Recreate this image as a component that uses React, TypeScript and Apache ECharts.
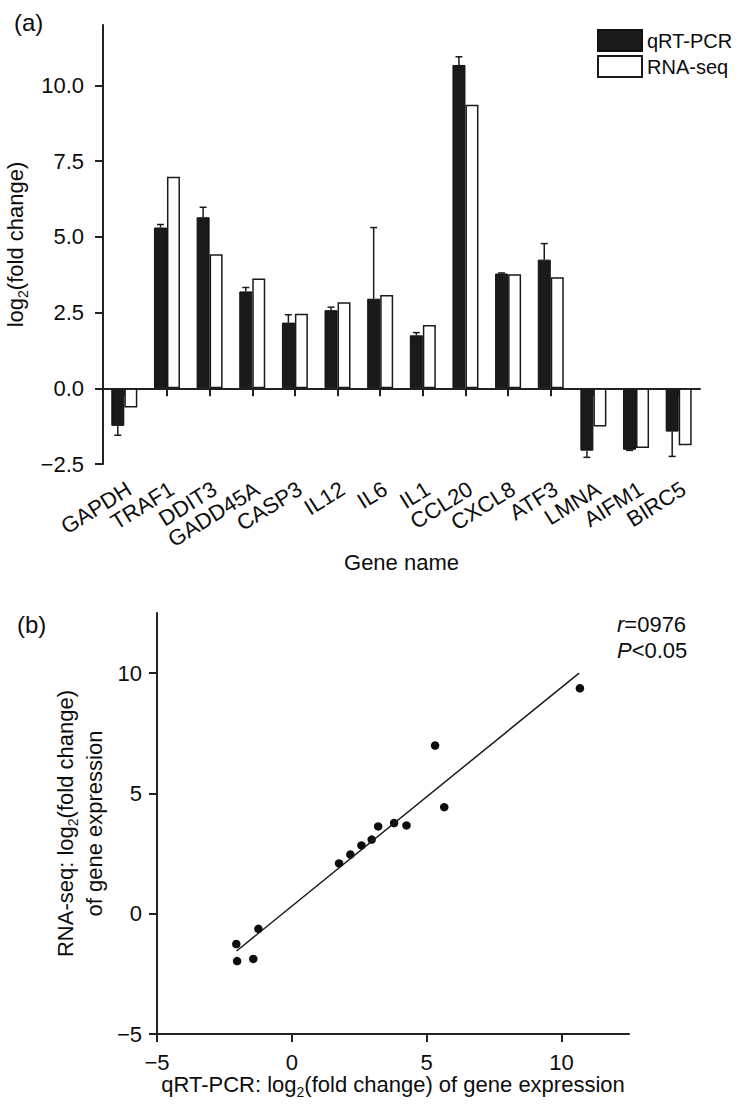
import React, { useEffect, useRef } from 'react';
import * as echarts from 'echarts';

const genes = ['GAPDH', 'TRAF1', 'DDIT3', 'GADD45A', 'CASP3', 'IL12', 'IL6', 'IL1', 'CCL20', 'CXCL8', 'ATF3', 'LMNA', 'AIFM1', 'BIRC5'];
const qpcr = [-1.24, 5.31, 5.65, 3.2, 2.17, 2.58, 2.96, 1.75, 10.68, 3.79, 4.25, -2.06, -2.03, -1.43];
const qpcrErr = [0.31, 0.1, 0.33, 0.13, 0.26, 0.1, 2.35, 0.09, 0.27, 0.02, 0.53, 0.22, 0.02, 0.82];
const rnaseq = [-0.63, 6.99, 4.43, 3.63, 2.46, 2.84, 3.08, 2.09, 9.37, 3.77, 3.67, -1.26, -1.97, -1.88];
const barTicks = [-2.5, 0, 2.5, 5, 7.5, 10];
const scatterTicks = [-5, 0, 5, 10];
const fitX = [-2.05, 10.65];
const fitY = [-1.55, 10.0];

const FONT = 'Liberation Sans, Arial, Helvetica, sans-serif';
const INK = '#0d0d0d';
const BAR_W = 13;
const BAR_MIN = -2.5;
const LABEL_DX = 5;
const LABEL_DY = 23;
const LABEL_ROT = (32 * Math.PI) / 180;

const fmt = (v: number, digits: number) => v.toFixed(digits).replace('-', '\u2212');

const axisLineStyle = { show: true, lineStyle: { color: '#222', width: 2 } };
const axisTickStyle = (customValues?: number[]) => ({
  show: true,
  length: 8,
  inside: false,
  lineStyle: { color: '#222', width: 2 },
  ...(customValues ? { customValues } : {}),
});

export default function App() {
  const ref = useRef<HTMLDivElement>(null);

  useEffect(() => {
    document.body.style.margin = '0';
    if (!ref.current) return;
    const chart = echarts.init(ref.current, undefined, { renderer: 'svg' });

    const subRich = {
      a: { fontSize: 22, lineHeight: 29, fontFamily: FONT, color: INK },
      s: { fontSize: 14, lineHeight: 14, verticalAlign: 'bottom', fontFamily: FONT, color: INK },
    };

    const option: any = {
      animation: false,
      backgroundColor: '#ffffff',
      textStyle: { fontFamily: FONT, color: INK },
      legend: {
        orient: 'vertical',
        left: 597,
        top: 29,
        padding: 0,
        itemWidth: 44,
        itemHeight: 21,
        itemGap: 3,
        icon: 'rect',
        selectedMode: false,
        textStyle: { fontSize: 20, fontFamily: FONT, color: INK },
        data: ['qRT-PCR', 'RNA-seq'],
      },
      grid: [
        { left: 103, top: 25, width: 597, height: 439, outerBoundsMode: 'none' },
        { left: 157, top: 613, width: 472, height: 421, outerBoundsMode: 'none' },
      ],
      xAxis: [
        {
          type: 'category',
          gridIndex: 0,
          data: genes,
          boundaryGap: true,
          axisLine: axisLineStyle,
          axisTick: { ...axisTickStyle(), alignWithLabel: true, interval: 0 },
          axisLabel: { show: false },
          name: 'Gene name',
          nameLocation: 'middle',
          nameGap: 87,
          nameTextStyle: { fontSize: 22, fontFamily: FONT, color: INK },
          splitLine: { show: false },
        },
        {
          type: 'value',
          gridIndex: 1,
          min: -5,
          max: 12.5,
          interval: 5,
          axisLine: { ...axisLineStyle, onZero: false },
          axisTick: axisTickStyle(scatterTicks),
          axisLabel: {
            margin: 17,
            fontSize: 22,
            fontFamily: FONT,
            color: INK,
            customValues: scatterTicks,
            formatter: (v: number) => fmt(v, 0),
          },
          splitLine: { show: false },
          name: '{a|qRT-PCR: log}{s|2}{a|(fold change) of gene expression}',
          nameLocation: 'middle',
          nameGap: 34,
          nameTextStyle: { rich: subRich },
        },
      ],
      yAxis: [
        {
          type: 'value',
          gridIndex: 0,
          min: BAR_MIN,
          max: 12,
          interval: 2.5,
          axisLine: axisLineStyle,
          axisTick: axisTickStyle(barTicks),
          axisLabel: {
            margin: 19,
            fontSize: 22,
            fontFamily: FONT,
            color: INK,
            customValues: barTicks,
            formatter: (v: number) => fmt(v, 1),
          },
          splitLine: { show: false },
          name: '{a|log}{s|2}{a|(fold change)}',
          nameLocation: 'middle',
          nameGap: 68,
          nameTextStyle: { rich: subRich },
        },
        {
          type: 'value',
          gridIndex: 1,
          min: -5,
          max: 12.5,
          interval: 5,
          axisLine: { ...axisLineStyle, onZero: false },
          axisTick: axisTickStyle(scatterTicks),
          axisLabel: {
            margin: 15,
            fontSize: 22,
            fontFamily: FONT,
            color: INK,
            customValues: scatterTicks,
            formatter: (v: number) => fmt(v, 0),
          },
          splitLine: { show: false },
          name: '{a|RNA-seq: log}{s|2}{a|(fold change)}\n{a|of gene expression}',
          nameLocation: 'middle',
          nameGap: 48,
          nameTextStyle: { rich: subRich, align: 'center' },
        },
      ],
      series: [
        {
          name: 'qRT-PCR',
          type: 'bar',
          xAxisIndex: 0,
          yAxisIndex: 0,
          barWidth: BAR_W,
          barGap: '0%',
          data: qpcr,
          itemStyle: { color: '#1a1a1a', borderColor: '#111', borderWidth: 1 },
          markLine: {
            silent: true,
            symbol: 'none',
            label: { show: false },
            lineStyle: { color: '#222', width: 1.5, type: 'solid' },
            data: [{ yAxis: 0 }],
          },
        },
        {
          name: 'RNA-seq',
          type: 'bar',
          xAxisIndex: 0,
          yAxisIndex: 0,
          barWidth: BAR_W,
          barGap: '0%',
          data: rnaseq,
          itemStyle: { color: '#ffffff', borderColor: '#1a1a1a', borderWidth: 1.5 },
        },
        {
          name: 'err',
          type: 'custom',
          xAxisIndex: 0,
          yAxisIndex: 0,
          z: 5,
          data: genes.map((_, i) => [i, qpcr[i], qpcrErr[i]]),
          encode: { x: 0, y: 1 },
          renderItem: (_params: any, api: any) => {
            const i = api.value(0);
            const v = api.value(1);
            const e = api.value(2);
            const end = v >= 0 ? v + e : v - e;
            const p0 = api.coord([i, v]);
            const p1 = api.coord([i, end]);
            const x = p0[0] - BAR_W / 2;
            return {
              type: 'group',
              children: [
                { type: 'line', shape: { x1: x, y1: p0[1], x2: x, y2: p1[1] }, style: { stroke: '#1a1a1a', lineWidth: 1.5 } },
                { type: 'line', shape: { x1: x - 3.5, y1: p1[1], x2: x + 3.5, y2: p1[1] }, style: { stroke: '#1a1a1a', lineWidth: 1.5 } },
              ],
            };
          },
        },
        {
          name: 'geneLabels',
          type: 'custom',
          xAxisIndex: 0,
          yAxisIndex: 0,
          clip: false,
          silent: true,
          data: genes.map((_, i) => [i, BAR_MIN]),
          encode: { x: 0, y: 1 },
          renderItem: (params: any, api: any) => {
            const i = api.value(0);
            const p = api.coord([i, BAR_MIN]);
            return {
              type: 'text',
              x: p[0] + LABEL_DX,
              y: p[1] + LABEL_DY,
              rotation: LABEL_ROT,
              style: {
                text: genes[params.dataIndex],
                fontSize: 22,
                fontFamily: FONT,
                fill: INK,
                align: 'right',
                verticalAlign: 'middle',
              },
            };
          },
        },
        {
          name: 'points',
          type: 'scatter',
          xAxisIndex: 1,
          yAxisIndex: 1,
          symbol: 'circle',
          symbolSize: 8.5,
          itemStyle: { color: '#0d0d0d', opacity: 1 },
          data: qpcr.map((x, i) => [x, rnaseq[i]]),
        },
        {
          name: 'fit',
          type: 'line',
          xAxisIndex: 1,
          yAxisIndex: 1,
          symbol: 'none',
          lineStyle: { color: '#1a1a1a', width: 1.5 },
          data: fitX.map((x, i) => [x, fitY[i]]),
        },
      ],
      graphic: [
        { type: 'text', left: 14, top: 10, style: { text: '(a)', fontSize: 24, fontFamily: FONT, fill: INK } },
        { type: 'text', left: 17, top: 612, style: { text: '(b)', fontSize: 24, fontFamily: FONT, fill: INK } },
        {
          type: 'text',
          left: 617,
          top: 611,
          style: {
            text: '{i|r}=0976\n{i|P}<0.05',
            fontSize: 22,
            lineHeight: 26,
            fontFamily: FONT,
            fill: INK,
            rich: {
              i: { fontStyle: 'italic', fontSize: 22, lineHeight: 26, fontFamily: FONT, fill: INK },
            },
          },
        },
      ],
    };

    chart.setOption(option);
    return () => chart.dispose();
  }, []);

  return <div ref={ref} style={{ width: 746, height: 1109 }} />;
}
